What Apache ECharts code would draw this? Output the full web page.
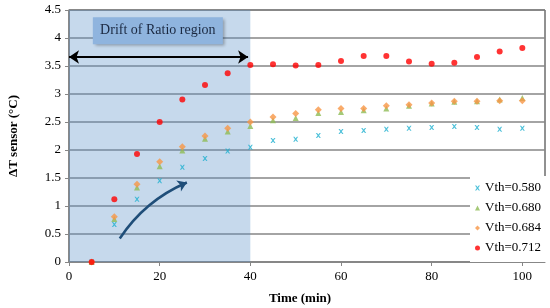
<!DOCTYPE html>
<html>
<head>
<meta charset="utf-8">
<script src="https://cdn.jsdelivr.net/npm/echarts@6/dist/echarts.min.js"></script>
<style>
  html, body { margin: 0; padding: 0; background: #fff; }
  #chart { width: 550px; height: 308px; }
</style>
</head>
<body>
<div id="chart"></div>
<script>
const times = [5, 10, 15, 20, 25, 30, 35, 40, 45, 50, 55, 60, 65, 70, 75, 80, 85, 90, 95, 100];
const vth0580 = [0, 0.67, 1.12, 1.45, 1.69, 1.85, 1.98, 2.05, 2.17, 2.19, 2.26, 2.33, 2.35, 2.37, 2.39, 2.40, 2.42, 2.40, 2.37, 2.39];
const vth0680 = [0, 0.77, 1.33, 1.71, 1.99, 2.20, 2.33, 2.43, 2.53, 2.57, 2.66, 2.68, 2.71, 2.74, 2.79, 2.83, 2.86, 2.87, 2.90, 2.93];
const vth0684 = [0, 0.81, 1.39, 1.79, 2.06, 2.25, 2.39, 2.50, 2.59, 2.65, 2.72, 2.74, 2.74, 2.79, 2.81, 2.84, 2.87, 2.87, 2.88, 2.88];
const vth0712 = [0, 1.12, 1.93, 2.50, 2.90, 3.16, 3.37, 3.52, 3.53, 3.51, 3.52, 3.59, 3.68, 3.68, 3.58, 3.54, 3.56, 3.66, 3.76, 3.82];
const seriesNames = ['Vth=0.580', 'Vth=0.680', 'Vth=0.684', 'Vth=0.712'];

// annotations (data coords)
const driftRegion = [[0, 0], [40, 4.5]];
const driftArrow = [[0, 3.66], [39.5, 3.66]];
const driftLabelAt = [19.6, 4.13];
const trendArrow = [[11.2, 0.42], [26, 1.42]];

const serif = '"Liberation Serif", "Times New Roman", serif';
const xMark = 'path://M0,0L2.5,0L5,3L7.5,0L10,0L6.5,5L10,10L7.5,10L5,7L2.5,10L0,10L3.5,5Z';

const pts = (ys) => times.map((t, i) => [t, ys[i]]);

const chart = echarts.init(document.getElementById('chart'));
chart.setOption({
  animation: false,
  backgroundColor: '#fff',
  textStyle: { fontFamily: serif },
  grid: {
    left: 69, right: 5, top: 10, bottom: 46,
    outerBoundsMode: 'none',
    containLabel: false,
    show: true, borderColor: '#222', borderWidth: 1
  },
  legend: {
    data: seriesNames,
    orient: 'vertical',
    left: 470, top: 176,
    padding: [5, 10, 7, 5],
    itemGap: 6,
    itemWidth: 5, itemHeight: 5,
    backgroundColor: '#fff',
    textStyle: { fontFamily: serif, fontSize: 13, lineHeight: 14, color: '#000' }
  },
  xAxis: {
    type: 'value',
    min: 0, max: 105, interval: 20,
    name: 'Time (min)',
    nameLocation: 'middle',
    nameGap: 30,
    nameTextStyle: { fontFamily: serif, fontSize: 13, fontWeight: 'bold', color: '#000', padding: [0, 14, 0, 0] },
    axisLine: { lineStyle: { color: '#868686', width: 1.5 } },
    axisTick: { show: true, length: 4, lineStyle: { color: '#868686' } },
    axisLabel: { fontFamily: serif, fontSize: 13, color: '#000', margin: 8, showMaxLabel: false },
    splitLine: { show: false }
  },
  yAxis: {
    type: 'value',
    min: 0, max: 4.5, interval: 0.5,
    name: 'ΔT sensor (°C)',
    nameLocation: 'middle',
    nameGap: 49,
    nameTextStyle: { fontFamily: serif, fontSize: 13, fontWeight: 'bold', color: '#000' },
    axisLine: { show: true, lineStyle: { color: '#868686', width: 1.5 } },
    axisTick: { show: true, length: 4, lineStyle: { color: '#868686' } },
    axisLabel: { fontFamily: serif, fontSize: 13, color: '#000', margin: 8 },
    splitLine: { lineStyle: { color: '#868686', width: 1.5 } }
  },
  series: [
    {
      name: seriesNames[0], type: 'scatter', data: pts(vth0580),
      symbol: xMark, symbolSize: 5,
      itemStyle: { color: '#1fb0d0' },
      markArea: {
        silent: true,
        itemStyle: { color: 'rgba(92,146,201,0.35)' },
        data: [[{ coord: driftRegion[0] }, { coord: driftRegion[1] }]]
      }
    },
    {
      name: seriesNames[1], type: 'scatter', data: pts(vth0680),
      symbol: 'triangle', symbolSize: 6,
      itemStyle: { color: '#8fbc55' },
      markLine: {
        silent: true,
        symbol: ['arrow', 'arrow'],
        symbolSize: [10, 10],
        label: { show: false },
        lineStyle: { color: '#000', width: 2, type: 'solid' },
        data: [[{ coord: driftArrow[0] }, { coord: driftArrow[1] }]]
      }
    },
    {
      name: seriesNames[2], type: 'scatter', data: pts(vth0684),
      symbol: 'diamond', symbolSize: 7,
      itemStyle: { color: '#f79646' }
    },
    {
      name: seriesNames[3], type: 'scatter', data: pts(vth0712),
      symbol: 'circle', symbolSize: 6,
      itemStyle: { color: '#ff0000' },
      markPoint: {
        silent: true,
        symbol: 'rect',
        symbolSize: [130, 27],
        itemStyle: {
          color: '#8fb4de',
          shadowBlur: 3, shadowOffsetX: 2, shadowOffsetY: 2, shadowColor: 'rgba(0,0,0,0.3)'
        },
        label: {
          show: true, position: 'inside',
          fontFamily: serif, fontSize: 14, color: '#1a2840',
          formatter: 'Drift of Ratio region'
        },
        data: [{ coord: driftLabelAt }]
      }
    },
    {
      name: 'trend', type: 'lines', coordinateSystem: 'cartesian2d',
      silent: true,
      symbol: ['none', 'arrow'],
      symbolSize: 9,
      lineStyle: { color: '#1f4e79', width: 2.5, opacity: 1, curveness: 0.15 },
      data: [{ coords: trendArrow }]
    }
  ]
});
</script>
</body>
</html>
